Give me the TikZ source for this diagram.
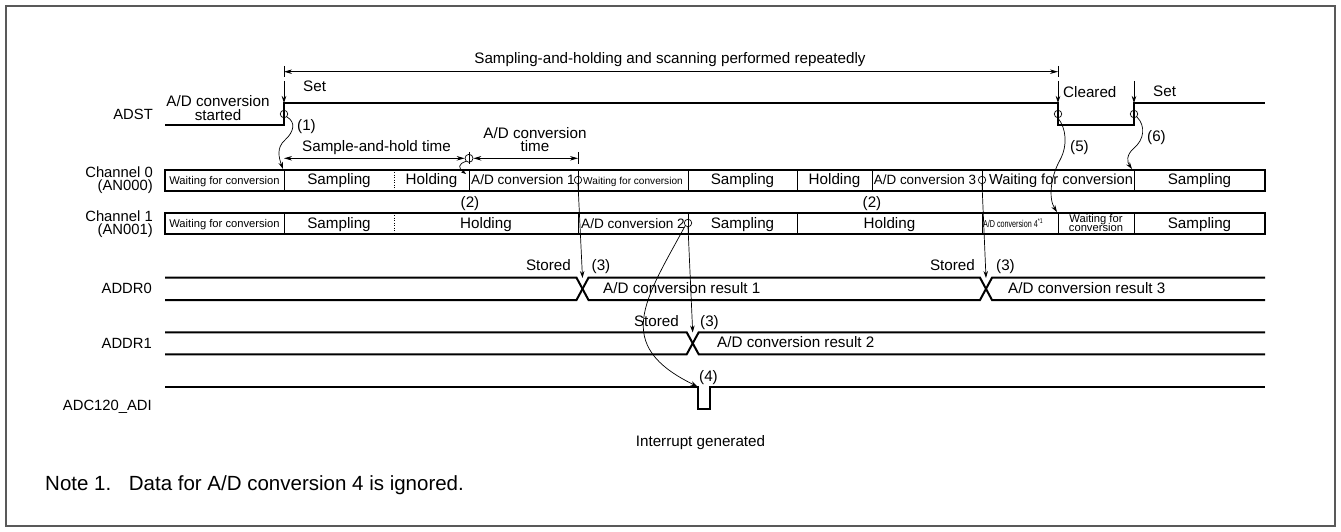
\documentclass[tikz,border=0pt]{standalone}
\usepackage{fontspec}
\setmainfont{Liberation Sans}
\usepackage{graphicx}
\usetikzlibrary{arrows.meta}
\begin{document}
\begin{tikzpicture}[x=1pt,y=-1pt,
  frame/.style={draw=black!65,line width=1.5pt},
  sig/.style={line width=2pt,line join=miter},
  bar/.style={line width=2pt},
  sep/.style={line width=0.8pt},
  dsep/.style={line width=0.8pt,dash pattern=on 1pt off 1.5pt},
  conn/.style={line width=0.7pt,-{Stealth[length=7pt,width=4.5pt]}},
  dim/.style={line width=0.8pt,{Stealth[length=8pt,width=4.5pt]}-{Stealth[length=8pt,width=4.5pt]}},
  tk/.style={line width=0.8pt},
  ring/.style={circle,draw,line width=0.7pt,minimum size=8pt,inner sep=0pt},
  lbl/.style={inner sep=0pt,font=\fontsize{15.2}{15}\selectfont},
  side/.style={inner sep=0pt,font=\fontsize{14.8}{15}\selectfont},
  sm/.style={inner sep=0pt,font=\fontsize{11.2}{11}\selectfont},
]
\useasboundingbox (0,0) rectangle (1341,532);
\draw[frame] (6,6) rectangle (1335,526);

% ---------- left labels
\node[side,anchor=base east] (lADST) at (153,120) {ADST};
\node[side,anchor=base east] (lch0a) at (153,177.3) {Channel 0};
\node[side,anchor=base east] (lch0b) at (153,190.5) {(AN000)};
\node[side,anchor=base east] (lch1a) at (153,221.7) {Channel 1};
\node[side,anchor=base east] (lch1b) at (153,234.8) {(AN001)};
\node[side,anchor=base east] (lADDR0) at (152,293.3) {ADDR0};
\node[side,anchor=base east] (lADDR1) at (152,348.3) {ADDR1};
\node[side,anchor=base east] (lADI) at (152,410) {ADC120\_ADI};

% ---------- ADST waveform
\draw[sig] (165,125.5) -- (284,125.5) -- (284,103) -- (1058,103) -- (1058,125.5)
  -- (1134,125.5) -- (1134,103) -- (1265,103);
\node[lbl,anchor=base] (tstart1) at (218,106.5) {A/D conversion};
\node[lbl,anchor=base] (tstart2) at (218,121) {started};

% top dimension
\coordinate (dimL) at (284,71.7);
\coordinate (dimR) at (1058,71.7);
\draw[tk] (284,66) -- (284,77);
\draw[tk] (1058,66) -- (1058,77);
\draw[dim] (dimL) -- (dimR);
\node[lbl] (trep) at (670,60) {Sampling-and-holding and scanning performed repeatedly};

% set / cleared arrows
\coordinate (s1a) at (284,81); \coordinate (s1b) at (284,103);
\coordinate (s2a) at (1058,81); \coordinate (s2b) at (1058,103);
\coordinate (s3a) at (1134,81); \coordinate (s3b) at (1134,103);
\draw[conn] (s1a) -- (s1b);
\draw[conn] (s2a) -- (s2b);
\draw[conn] (s3a) -- (s3b);
\node[lbl,anchor=west] (tset1) at (303,86.7) {Set};
\node[lbl,anchor=west] (tclr) at (1063,91.7) {Cleared};
\node[lbl,anchor=west] (tset2) at (1153,91.7) {Set};

% rings on ADST edges
\node[ring,minimum size=7.5pt] (r1) at (284,114) {};
\node[ring,minimum size=7.5pt] (r5) at (1058,114) {};
\node[ring,minimum size=7.5pt] (r6) at (1134,114) {};

% ---------- Channel 0 bar
\draw[bar] (165,169.5) rectangle (1265,190.5);
\foreach \x in {284,469,578,688,797,872,982,1134} \draw[sep] (\x,169.5) -- (\x,190.5);
\draw[dsep] (394,169.5) -- (394,190.5);
\node[sm,anchor=base] (c0w1) at (224.5,184) {Waiting for conversion};
\node[lbl,anchor=base] (c0s1) at (339,184.5) {Sampling};
\node[lbl,anchor=base] (c0h1) at (431.5,184.5) {Holding};
\node[lbl,anchor=base,font=\fontsize{13.6}{14}\selectfont] (c0a1) at (523,184.5) {A/D conversion 1};
\node[sm,anchor=base,font=\fontsize{10.1}{10}\selectfont] (c0w2) at (633,184) {Waiting for conversion};
\node[lbl,anchor=base] (c0s2) at (742.5,184.5) {Sampling};
\node[lbl,anchor=base] (c0h2) at (834.5,184.5) {Holding};
\node[lbl,anchor=base,font=\fontsize{13.4}{14}\selectfont] (c0a3) at (925,184.5) {A/D conversion 3};
\node[lbl,anchor=base,font=\fontsize{14.6}{15}\selectfont] (c0w3) at (1061,184.5) {Waiting for conversion};
\node[lbl,anchor=base] (c0s3) at (1199.5,184.5) {Sampling};

% ---------- Channel 1 bar
\draw[bar] (165,212.5) rectangle (1265,234);
\foreach \x in {284,578,688,797,982,1058,1134} \draw[sep] (\x,212.5) -- (\x,234);
\draw[dsep] (394,212.5) -- (394,234);
\node[sm,anchor=base] (c1w1) at (224.5,227.5) {Waiting for conversion};
\node[lbl,anchor=base] (c1s1) at (339,228) {Sampling};
\node[lbl,anchor=base] (c1h1) at (486,228) {Holding};
\node[lbl,anchor=base,font=\fontsize{13.6}{14}\selectfont] (c1a2) at (633,228) {A/D conversion 2};
\node[lbl,anchor=base] (c1s2) at (742.5,228) {Sampling};
\node[lbl,anchor=base] (c1h2) at (889.5,228) {Holding};
\node[inner sep=0pt,anchor=base] (c1a4) at (1013,227.5)
  {\scalebox{0.72}[1]{\fontsize{10}{10}\selectfont A/D conversion 4\textsuperscript{*1}}};
\node[sm,anchor=base] (c1w2a) at (1096,222) {Waiting for};
\node[sm,anchor=base] (c1w2b) at (1096,231) {conversion};
\node[lbl,anchor=base] (c1s3) at (1199.5,228) {Sampling};

% rings in channel bars
\node[ring,minimum size=7.5pt,fill=white] (q1) at (578,180) {};
\node[ring,minimum size=7.5pt,fill=white] (q3) at (982,180) {};
\node[ring,minimum size=7.5pt,fill=white] (q2) at (688,223) {};
\draw[sep] (578,176) -- (578,190.5);
\draw[sep] (982,176) -- (982,190.5);
\draw[sep] (688,219) -- (688,234);

% (2) labels
\node[lbl,anchor=base] (n2a) at (470,207.5) {(2)};
\node[lbl,anchor=base] (n2b) at (872,207.5) {(2)};

% ---------- sample-and-hold / conversion time
\node[ring,minimum size=8pt] (xc) at (469,158.3) {};
\draw[tk] (469,152.5) -- (469,164);
\draw[tk] (578,152.5) -- (578,164);
\coordinate (shL) at (284,158.3);
\coordinate (cvR) at (578,158.3);
\draw[dim] (shL) -- (xc.west);
\draw[dim] (xc.east) -- (cvR);
\node[lbl,anchor=base west] (tsh) at (302,151.7) {Sample-and-hold time};
\node[lbl,anchor=base] (tcv1) at (535,138.5) {A/D conversion};
\node[lbl,anchor=base] (tcv2) at (535,152) {time};

% ---------- ADDR0
\draw[sig] (165,277.7) -- (576.5,277.7) -- (588.5,300) -- (980,300) -- (992,277.7) -- (1265,277.7);
\draw[sig] (165,300) -- (576.5,300) -- (588.5,277.7) -- (980,277.7) -- (992,300) -- (1265,300);
\coordinate (x0a) at (582.5,278);
\coordinate (x0b) at (986,278);
\node[lbl,anchor=base east] (st1) at (571,270) {Stored};
\node[lbl,anchor=base west] (n3a) at (591.5,270) {(3)};
\node[lbl,anchor=base east] (st3) at (975,270) {Stored};
\node[lbl,anchor=base west] (n3c) at (996,270) {(3)};
\node[lbl,anchor=base west] (res1) at (603,293.5) {A/D conversion result 1};
\node[lbl,anchor=base west] (res3) at (1008,293.5) {A/D conversion result 3};

% ---------- ADDR1
\draw[sig] (165,332.3) -- (686.7,332.3) -- (698.7,354.3) -- (1265,354.3);
\draw[sig] (165,354.3) -- (686.7,354.3) -- (698.7,332.3) -- (1265,332.3);
\coordinate (x1a) at (692.7,332.5);
\node[lbl,anchor=base east] (st2) at (679,326) {Stored};
\node[lbl,anchor=base west] (n3b) at (700,326) {(3)};
\node[lbl,anchor=base west] (res2) at (717,347.5) {A/D conversion result 2};

% ---------- ADC120_ADI
\draw[sig] (165,386.7) -- (698,386.7) -- (698,409) -- (710,409) -- (710,386.7) -- (1265,386.7);
\coordinate (pl) at (697.5,386.5);
\node[lbl,anchor=base west] (n4) at (699,381) {(4)};
\node[lbl,anchor=base] (tint) at (700.5,446) {Interrupt generated};

% ---------- connectors
\draw[conn] (q1.south) -- (x0a);
\draw[conn] (q3.south) -- (x0b);
\draw[conn] (q2.south) -- (x1a);
\draw[conn] (q2.south west) .. controls (645,300) and (612,345) .. (pl);
\coordinate (c0top) at (283,169);
\draw[conn] (r1.south east) .. controls (296,122) and (294,132) .. (285,140)
  .. controls (276,148) and (279,158) .. (c0top);
\node[lbl,anchor=base west] (n1) at (297,131) {(1)};
\coordinate (c1top) at (1057,212);
\draw[conn] (r5.south) .. controls (1066,128) and (1068,145) .. (1060,160)
  .. controls (1051,176) and (1048,198) .. (c1top);
\node[lbl,anchor=base west] (n5) at (1070,151) {(5)};
\coordinate (c0top6) at (1132,169);
\draw[conn] (r6.south east) .. controls (1146,126) and (1144,140) .. (1134,148)
  .. controls (1126,155) and (1127,162) .. (c0top6);
\node[lbl,anchor=base west] (n6) at (1147,141.5) {(6)};
\coordinate (c0top2) at (466,174);
\draw[conn,-{Stealth[length=5pt,width=3.5pt]}] (xc.south west) .. controls (458,164) and (458,168) .. (c0top2);

% ---------- note
\node[inner sep=0pt,anchor=base west,font=\fontsize{20.5}{21}\selectfont] (note) at (45,490)
  {Note 1.\hspace{10pt} Data for A/D conversion 4 is ignored.};
\end{tikzpicture}
\end{document}
